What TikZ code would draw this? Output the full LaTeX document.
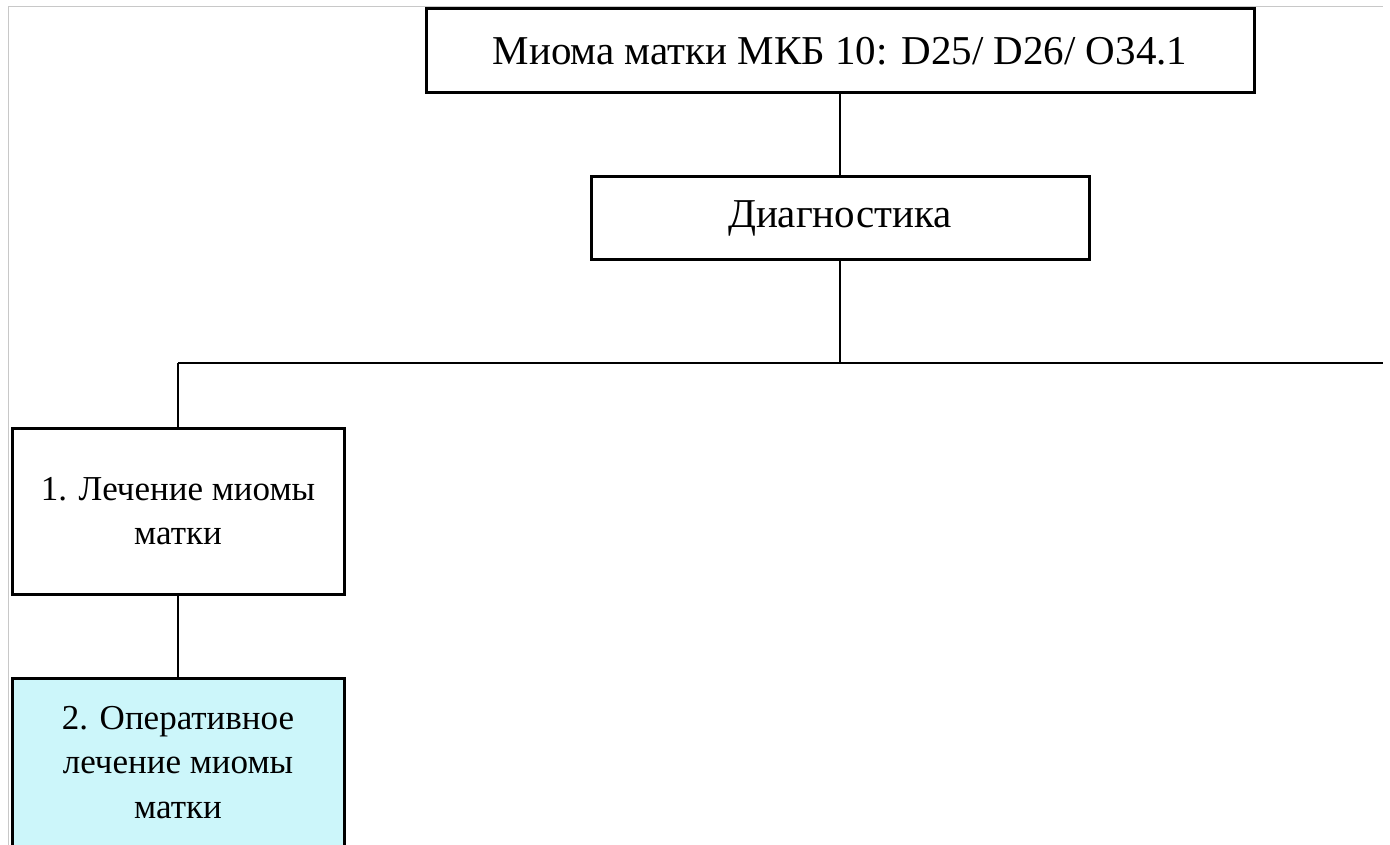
\documentclass[tikz,border=0pt]{standalone}
\usepackage{fontspec}
\setmainfont{Liberation Serif}
\definecolor{boxcyan}{RGB}{204,246,250}
\definecolor{framegray}{RGB}{200,200,200}
\tikzset{
  box/.style={draw=black, line width=3pt, inner sep=0pt, outer sep=0pt, align=center, anchor=north west},
  bigtxt/.style={font=\fontsize{41}{46}\selectfont},
  smalltxt/.style={font=\fontsize{35}{44.5}\selectfont},
  conn/.style={draw=black, line width=2.6pt},
}
\begin{document}
\begin{tikzpicture}[x=1pt,y=-1pt]
\useasboundingbox (0,0) rectangle (1390,845);
\fill[white] (0,0) rectangle (1390,845);
\draw[framegray, line width=1pt] (8,845) -- (8,7) -- (1383,7);
\node[box, bigtxt, minimum width=828pt, minimum height=84pt] (top) at (426,9) {Миома матки МКБ 10: D25/ D26/ O34.1};
\node[box, bigtxt, minimum width=498pt, minimum height=83pt] (diag) at (591,177) {Диагностика};
\node[box, smalltxt, minimum width=332pt, minimum height=166pt] (b1) at (12,428) {1. Лечение миомы\\матки};
\node[box, fill=boxcyan, minimum width=332pt, minimum height=180pt] (b2) at (12,678) {};
\node[smalltxt, align=center, anchor=north, inner sep=0pt] (b2t) at (178,706) {2. Оперативное\\лечение миомы\\матки};
\coordinate (jc) at (840,363);
\coordinate (jl) at (b1.north |- jc);
\coordinate (jr) at (1383,363);
\draw[conn] (top.south) -- (diag.north);
\draw[conn] (diag.south) -- (jc);
\draw[conn] (jl) -- (jr);
\draw[conn] (jl) -- (b1.north);
\draw[conn] (b1.south) -- (b2.north);
\end{tikzpicture}
\end{document}
